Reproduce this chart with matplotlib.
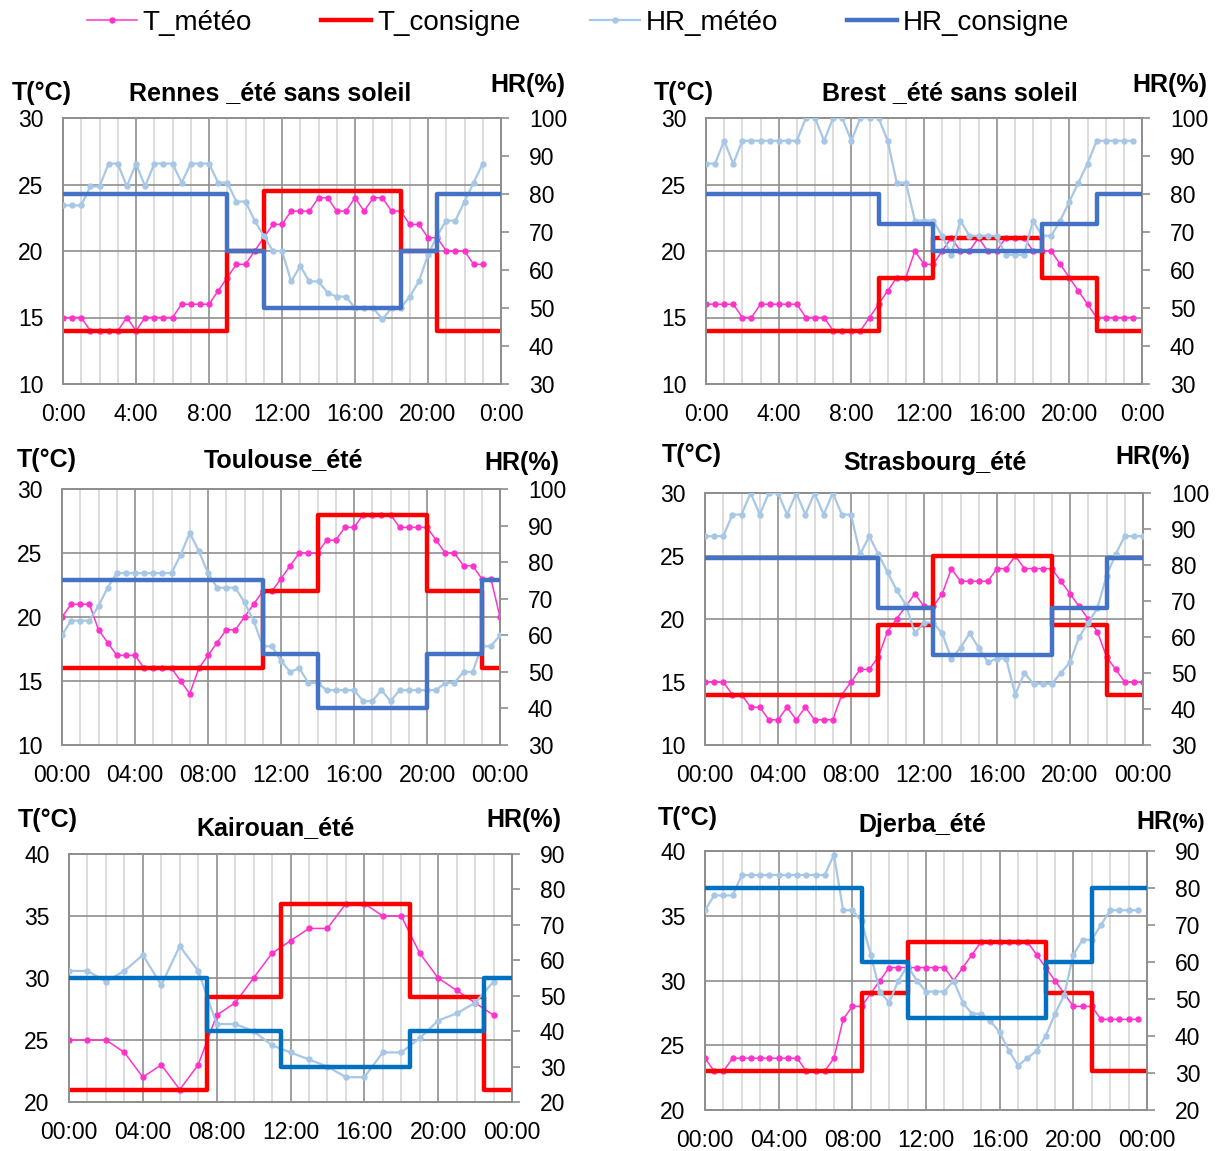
import numpy as np
import matplotlib
matplotlib.use('Agg')
import matplotlib.pyplot as plt
from matplotlib.lines import Line2D
from matplotlib.ticker import MultipleLocator

plt.rcParams['font.family'] = ['Liberation Sans', 'DejaVu Sans']

# ---------------- data ----------------
# half-hourly (or hourly) weather data
rennes_T = [15,15,15,14,14,14,14,15,14,15,15,15,15,16,16,16,16,17,18,19,19,20,21,22,22,23,23,23,24,24,
            23,23,24,23,24,24,23,23,22,22,21,21,20,20,20,19,19]
rennes_HR = [77,77,77,82,82,88,88,82,88,82,88,88,88,83,88,88,88,83,83,78,78,73,69,65,65,57,61,57,57,54,
             53,53,50,50,50,47,50,50,53,57,64,69,73,73,78,83,88]
brest_T = [16,16,16,16,15,15,16,16,16,16,16,15,15,15,14,14,14,14,15,16,17,18,18,20,19,19,20,21,20,20,
           21,20,20,21,21,21,20,20,20,19,18,17,16,15,15,15,15,15]
brest_HR = [88,88,94,88,94,94,94,94,94,94,94,100,100,94,100,100,94,100,100,100,94,83,83,73,73,73,69,64,73,69,
            69,69,69,64,64,64,73,69,69,73,78,83,88,94,94,94,94,94]
toulouse_T = [20,21,21,21,19,18,17,17,17,16,16,16,16,15,14,16,17,18,19,19,20,21,22,22,23,24,25,25,25,26,
              26,27,27,28,28,28,28,27,27,27,27,26,25,25,24,24,23,23,20]
toulouse_HR = [60,64,64,64,68,73,77,77,77,77,77,77,77,82,88,83,77,73,73,73,69,64,57,57,53,50,51,47,47,45,
               45,45,45,42,42,45,42,45,45,45,45,45,47,47,50,50,57,57,60]
strasbourg_T = [15,15,15,14,14,13,13,12,12,13,12,13,12,12,12,14,15,16,16,17,19,20,21,22,21,21,22,24,23,23,
                23,23,24,24,25,24,24,24,24,23,22,21,20,19,17,16,15,15,15]
strasbourg_HR = [88,88,88,94,94,100,94,100,100,94,100,94,100,94,100,94,94,83,88,83,78,73,69,61,64,64,61,54,57,61,
                 57,53,54,54,44,50,47,47,47,50,53,60,64,68,77,83,88,88,88]
kairouan_T = [25,25,25,24,22,23,21,23,27,28,30,32,33,34,34,36,36,35,35,32,30,29,28,27]
kairouan_HR = [57,57,54,57,61.5,53,64,57,42,42,40,36,34,32,30,27,27,34,34,38,43,45,48,54]
djerba_T = [24,23,23,24,24,24,24,24,24,24,24,23,23,23,24,27,28,28,29,30,31,31,31,31,31,31,31,30,31,32,
            33,33,33,33,33,33,32,31,30,29,28,28,28,27,27,27,27,27]
djerba_HR = [74,78,78,78,83.5,83.5,83.5,83.5,83.5,83.5,83.5,83.5,83.5,83.5,89,74,74,71,62,52,49,55,59,55,52,52,
             52,55,49,46,46,44,41,36,32,34,36,40,46,51,62,66,66,70,74,74,74,74]

# set-point schedules: change times (h) and values
rennes_sp_t = [0, 9, 11, 18.5, 20.5, 24]
rennes_Tc = [14, 20, 24.5, 20, 14, 14]
rennes_HRc = [80, 65, 50, 65, 80, 80]
brest_sp_t = [0, 9.5, 12.5, 18.5, 21.5, 24]
brest_Tc = [14, 18, 21, 18, 14, 14]
brest_HRc = [80, 72, 65, 72, 80, 80]
toulouse_sp_t = [0, 11, 14, 20, 23, 24]
toulouse_Tc = [16, 22, 28, 22, 16, 16]
toulouse_HRc = [75, 55, 40, 55, 75, 75]
strasbourg_sp_t = [0, 9.5, 12.5, 19, 22, 24]
strasbourg_Tc = [14, 19.5, 25, 19.5, 14, 14]
strasbourg_HRc = [82, 68, 55, 68, 82, 82]
kairouan_sp_t = [0, 7.5, 11.5, 18.5, 22.5, 24]
kairouan_Tc = [21, 28.5, 36, 28.5, 21, 21]
kairouan_HRc = [55, 40, 30, 40, 55, 55]
djerba_sp_t = [0, 8.5, 11, 18.5, 21, 24]
djerba_Tc = [23, 29, 33, 29, 23, 23]
djerba_HRc = [80, 60, 45, 60, 80, 80]

xlabels_short = ['0:00', '4:00', '8:00', '12:00', '16:00', '20:00', '0:00']
xlabels_long = ['00:00', '04:00', '08:00', '12:00', '16:00', '20:00', '00:00']
titles = ['Rennes _été sans soleil', 'Brest _été sans soleil', 'Toulouse_été',
          'Strasbourg_été', 'Kairouan_été', 'Djerba_été']

# ---------------- style ----------------
W, H = 1218, 1151
C_TM = '#FF33CC'
C_TC = '#FF0000'
C_HM = '#A7C7E7'
C_HC1 = '#4472C4'
C_HC2 = '#0070C0'
GRID_MAJ = '#8f8f8f'
GRID_MIN = '#d6d6d6'
TICK_FS = 16.5
LAB_FS = 18

fig = plt.figure(figsize=(W / 100, H / 100), dpi=100)


def fx(x):
    return x / W


def fy(y):
    return 1 - y / H


def panel(box, T, HR, step, sp_t, Tc, HRc, tlim, hlim, hstep, xlabels, hc_color,
          title, title_xy, tlab_xy, hlab_xy, small_pct=False):
    l, t, r, b = box
    ax = fig.add_axes([fx(l), fy(b), (r - l) / W, (b - t) / H])
    ax2 = ax.twinx()
    x = np.arange(len(T)) * step
    ax.plot(x, T, color=C_TM, lw=1.1, marker='o', ms=3.6, zorder=3)
    ax.plot(sp_t, Tc, color=C_TC, lw=3.2, drawstyle='steps-post', zorder=4)
    ax2.plot(x, HR, color=C_HM, lw=1.6, marker='o', ms=3.6, zorder=3)
    ax2.plot(sp_t, HRc, color=hc_color, lw=3.2, drawstyle='steps-post', zorder=4)

    ax.set_xlim(0, 24)
    ax.set_ylim(*tlim)
    ax2.set_ylim(*hlim)
    ax.set_xticks(np.arange(0, 25, 4))
    ax.set_xticklabels(xlabels)
    ax.xaxis.set_minor_locator(MultipleLocator(1))
    ax.yaxis.set_major_locator(MultipleLocator(5))
    ax2.yaxis.set_major_locator(MultipleLocator(hstep))
    ax.grid(True, which='major', axis='both', color=GRID_MAJ, lw=1.2)
    ax.grid(True, which='minor', axis='x', color=GRID_MIN, lw=1.2)
    ax.set_axisbelow(True)
    ax.tick_params(axis='both', which='both', length=0, labelsize=TICK_FS)
    ax.tick_params(axis='x', pad=14)
    ax.tick_params(axis='y', pad=14)
    ax2.tick_params(axis='y', length=6, width=1.2, color=GRID_MAJ, labelsize=TICK_FS, pad=14)
    for a in (ax, ax2):
        for s in a.spines.values():
            s.set_color(GRID_MAJ)
            s.set_linewidth(1.3)
    fig.text(fx(title_xy[0]), fy(title_xy[1]), title, ha='center', va='center',
             fontsize=LAB_FS, fontweight='bold')
    fig.text(fx(tlab_xy[0]), fy(tlab_xy[1]), 'T(°C)', ha='center', va='center',
             fontsize=LAB_FS, fontweight='bold')
    if small_pct:
        fig.text(fx(hlab_xy[0]), fy(hlab_xy[1]), 'HR', ha='right', va='center',
                 fontsize=LAB_FS, fontweight='bold')
        fig.text(fx(hlab_xy[0]), fy(hlab_xy[1] + 1), '(%)', ha='left', va='center',
                 fontsize=LAB_FS - 3, fontweight='bold')
    else:
        fig.text(fx(hlab_xy[0]), fy(hlab_xy[1]), 'HR(%)', ha='center', va='center',
                 fontsize=LAB_FS, fontweight='bold')
    return ax, ax2


panel((63, 118, 501, 384), rennes_T, rennes_HR, 0.5, rennes_sp_t, rennes_Tc, rennes_HRc,
      (10, 30), (30, 100), 10, xlabels_short, C_HC1, titles[0], (270, 93), (42, 93), (528, 85))
panel((706, 118, 1142, 384), brest_T, brest_HR, 0.5, brest_sp_t, brest_Tc, brest_HRc,
      (10, 30), (30, 100), 10, xlabels_short, C_HC1, titles[1], (950, 93), (684, 93), (1170, 85))
panel((62, 489, 500, 745), toulouse_T, toulouse_HR, 0.5, toulouse_sp_t, toulouse_Tc, toulouse_HRc,
      (10, 30), (30, 100), 10, xlabels_long, C_HC1, titles[2], (284, 460), (47, 460), (522, 463))
panel((705, 493, 1143, 745), strasbourg_T, strasbourg_HR, 0.5, strasbourg_sp_t, strasbourg_Tc, strasbourg_HRc,
      (10, 30), (30, 100), 10, xlabels_long, C_HC1, titles[3], (935, 463), (692, 455), (1153, 457))
panel((69, 854, 512, 1102), kairouan_T, kairouan_HR, 1.0, kairouan_sp_t, kairouan_Tc, kairouan_HRc,
      (20, 40), (20, 90), 10, xlabels_long, C_HC2, titles[4], (276, 828), (48, 820), (524, 820))
panel((705, 851, 1147, 1110), djerba_T, djerba_HR, 0.5, djerba_sp_t, djerba_Tc, djerba_HRc,
      (20, 40), (20, 90), 10, xlabels_long, C_HC2, titles[5], (922, 825), (688, 818), (1172, 822),
      small_pct=True)

handles = [
    Line2D([], [], color=C_TM, lw=1.1, marker='o', ms=3.6),
    Line2D([], [], color=C_TC, lw=3.2),
    Line2D([], [], color=C_HM, lw=1.6, marker='o', ms=3.6),
    Line2D([], [], color=C_HC1, lw=3.2),
]
fig.legend(handles, ['T_météo', 'T_consigne', 'HR_météo', 'HR_consigne'],
           loc='center', bbox_to_anchor=(fx(578), fy(23)), ncol=4, frameon=False,
           fontsize=20, handlelength=1.8, handletextpad=0.2, columnspacing=2.5)

fig.savefig('out.png', dpi=100, facecolor='white')
